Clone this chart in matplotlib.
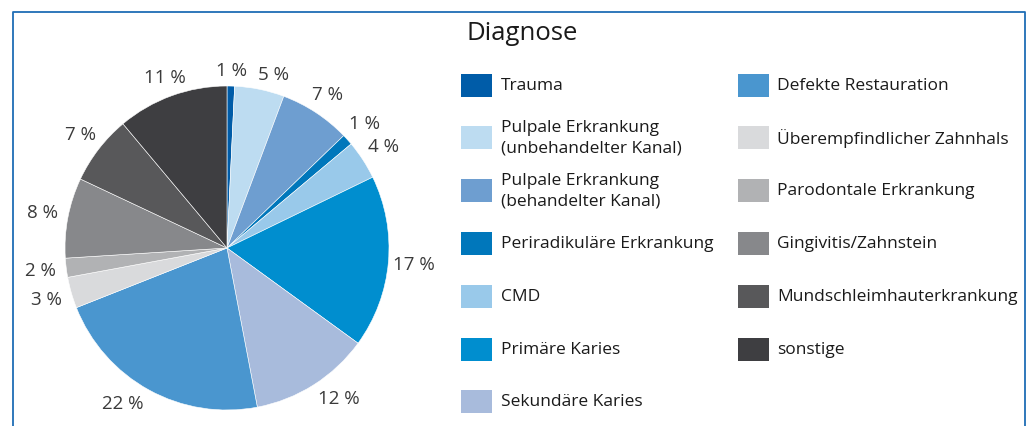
import numpy as np
import matplotlib.pyplot as plt
from matplotlib.patches import Rectangle

plt.rcParams['font.family'] = ['Open Sans', 'DejaVu Sans']

# Daten (Anteile in %, im Uhrzeigersinn ab 12 Uhr)
categories = [
    'Trauma',
    'Pulpale Erkrankung\n(unbehandelter Kanal)',
    'Pulpale Erkrankung\n(behandelter Kanal)',
    'Periradikuläre Erkrankung',
    'CMD',
    'Primäre Karies',
    'Sekundäre Karies',
    'Defekte Restauration',
    'Überempfindlicher Zahnhals',
    'Parodontale Erkrankung',
    'Gingivitis/Zahnstein',
    'Mundschleimhauterkrankung',
    'sonstige',
]
values = [0.75, 4.95, 7.1, 1.1, 3.9, 17.2, 12.0, 22.0, 3.1, 1.9, 8.0, 6.9, 11.1]
colors = ['#005ca8', '#bddcf1', '#6e9ed0', '#0077bb', '#99c9ea', '#008ecf',
          '#a8bbdc', '#4a96cf', '#d9dadc', '#b1b2b4', '#87888b', '#58585a', '#3e3e41']

W, H = 1036, 426
fig = plt.figure(figsize=(W / 100, H / 100), dpi=100)

# Kreisdiagramm: Mittelpunkt ~ (227, 248) px, Radius ~ 162 px
R = 162
cx, cy = 227, 248
lim = 1.4
size = 2 * lim * R
ax = fig.add_axes([(cx - size / 2) / W, (H - cy - size / 2) / H, size / W, size / H])
wedges, texts = ax.pie(values, colors=colors, startangle=90, counterclock=False,
                       labels=[f'{round(v)} %' for v in values], labeldistance=1.15,
                       wedgeprops=dict(linewidth=0.4, edgecolor='#ffffff'),
                       textprops=dict(fontsize=13.5, color='#3a3a3a'))
# Beschriftungen oben/unten etwas naeher an den Kreis, einzelne leicht verschoben
nudge = {1: -3.5, 6: 4, 7: -5}
for i, (w, t) in enumerate(zip(wedges, texts)):
    ang = np.deg2rad((w.theta1 + w.theta2) / 2 + nudge.get(i, 0))
    d = 1.09 + 0.07 * abs(np.cos(ang))
    if i in (6, 7):
        d += 0.03
    t.set_position((d * np.cos(ang), d * np.sin(ang)))
    t.set_horizontalalignment('center')
    t.set_verticalalignment('center')
ax.set_xlim(-lim, lim)
ax.set_ylim(-lim, lim)
ax.set_aspect('equal')
ax.axis('off')

# Overlay in Pixelkoordinaten fuer Rahmen, Titel und Legende
ov = fig.add_axes([0, 0, 1, 1], zorder=-1)
ov.set_xlim(0, W)
ov.set_ylim(H, 0)
ov.axis('off')
ov.patch.set_alpha(0)

frame_c = '#1f6db5'
ov.plot([12.5, 12.5, 1025, 1025], [H + 5, 11.5, 11.5, H + 5], color=frame_c, lw=1.3)

ov.text(522, 34, 'Diagnose', fontsize=18.5, ha='center', va='center', color='#1a1a1a')

# Legende: 2 Spalten, 7 + 6 Eintraege
row0, dy = 85, 52.8
for i, (lab, col) in enumerate(zip(categories, colors)):
    c, r = divmod(i, 7)
    bx = 461 if c == 0 else 738
    tx = 501 if c == 0 else 777
    y = row0 + r * dy
    ov.add_patch(Rectangle((bx, y - 11.5), 31, 23, facecolor=col, edgecolor='none'))
    ov.text(tx, y + 0.5, lab, fontsize=12.5, ha='left', va='center', color='#1a1a1a',
            linespacing=1.4)

fig.savefig('out.png', dpi=100)
